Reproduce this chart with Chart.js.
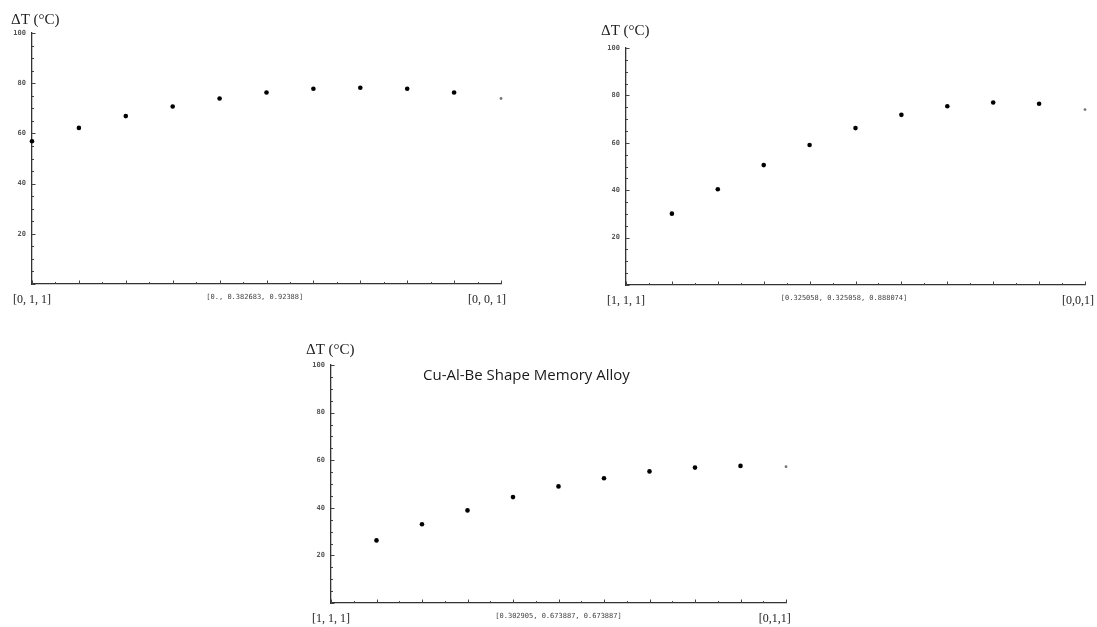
<!DOCTYPE html>
<html>
<head>
<meta charset="utf-8">
<script src="https://cdn.jsdelivr.net/npm/chart.js"></script>
<style>
  body { margin: 0; width: 1097px; height: 627px; background: #fff; overflow: hidden; position: relative; }
  canvas { position: absolute; }
</style>
</head>
<body>
<canvas id="c1"></canvas>
<canvas id="c2"></canvas>
<canvas id="c3"></canvas>
<script>
// data: ΔT (°C) along the orientation path, 10 steps
const steps1 = [0, 1, 2, 3, 4, 5, 6, 7, 8, 9, 10];
const dT1 = [56.9, 62.2, 66.9, 70.7, 73.9, 76.3, 77.8, 78.2, 77.8, 76.3, 73.9];
const steps2 = [1, 2, 3, 4, 5, 6, 7, 8, 9, 10];
const dT2 = [30.1, 40.4, 50.6, 59.1, 66.2, 71.8, 75.4, 77.0, 76.5, 74.0];
const steps3 = [1, 2, 3, 4, 5, 6, 7, 8, 9, 10];
const dT3 = [26.3, 33.1, 38.9, 44.5, 49.0, 52.4, 55.3, 56.9, 57.6, 57.3];

// tick labels (path end points and a midpoint) and where they sit on the path
const xLabels1 = ['[0, 1, 1]', '[0., 0.382683, 0.92388]', '[0, 0, 1]'];
const xLabelAt1 = [0, 4.75, 9.7];
const xLabels2 = ['[1, 1, 1]', '[0.325058, 0.325058, 0.888074]', '[0,0,1]'];
const xLabelAt2 = [0, 4.75, 9.85];
const xLabels3 = ['[1, 1, 1]', '[0.302905, 0.673887, 0.673887]', '[0,1,1]'];
const xLabelAt3 = [0, 5, 9.75];
const yTicks = [20, 40, 60, 80, 100];
const yTitle = 'ΔT (°C)';
const noteText = 'Cu-Al-Be Shape Memory Alloy';

// Mathematica-style inward ticks + the ΔT label and the note
const decor = {
  id: 'decor',
  afterDraw(chart, args, opts) {
    const { ctx, chartArea: a } = chart;
    const xs = chart.scales.x, ys = chart.scales.y;
    ctx.save();
    ctx.strokeStyle = '#444';
    ctx.lineWidth = 1;
    ctx.beginPath();
    for (let v = 0; v <= 10; v += 0.5) {
      const px = Math.round(xs.getPixelForValue(v)) + 0.5;
      const len = Number.isInteger(v) ? 3.5 : 2;
      ctx.moveTo(px, a.bottom);
      ctx.lineTo(px, a.bottom - len);
    }
    for (let v = 0; v <= 100; v += 5) {
      const py = Math.round(ys.getPixelForValue(v)) + 0.5;
      const len = v % 20 === 0 ? 3.5 : 2;
      ctx.moveTo(a.left, py);
      ctx.lineTo(a.left + len, py);
    }
    ctx.stroke();

    ctx.fillStyle = '#222';
    ctx.font = '15px "Liberation Serif", serif';
    ctx.textBaseline = 'middle';
    ctx.textAlign = 'left';
    ctx.fillText(yTitle, a.left + opts.titleDx, a.top + opts.titleDy);
    if (opts.note) {
      ctx.font = '15px "Open Sans", sans-serif';
      ctx.fillStyle = '#1a1a1a';
      ctx.fillText(opts.note, a.left + 92, a.top + 11);
    }
    ctx.restore();
  }
};

function makeChart(id, box, steps, values, labels, labelAt, decorOpts) {
  const cv = document.getElementById(id);
  const padL = 30, padT = 34, padR = 48, padB = 28;
  const w = box.right - box.left + padL + padR;
  const h = box.bottom - box.top + padT + padB;
  cv.width = w; cv.height = h;
  cv.style.left = (box.left - padL) + 'px';
  cv.style.top = (box.top - padT) + 'px';
  cv.style.width = w + 'px';
  cv.style.height = h + 'px';
  const last = values.length - 1;
  return new Chart(cv, {
    type: 'scatter',
    data: {
      datasets: [{
        data: steps.map((s, i) => ({ x: s, y: values[i] })),
        pointRadius: ctx => ctx.dataIndex === last ? 1.4 : 2.3,
        pointBackgroundColor: ctx => ctx.dataIndex === last ? '#777' : '#000',
        pointBorderWidth: 0,
        clip: false
      }]
    },
    options: {
      responsive: false,
      animation: false,
      layout: { padding: { left: 0, top: padT, right: padR, bottom: 0 } },
      plugins: {
        legend: { display: false },
        tooltip: { enabled: false },
        decor: decorOpts
      },
      scales: {
        x: {
          type: 'linear',
          min: 0,
          max: 10,
          afterFit: s => { s.height = padB; },
          afterBuildTicks: s => { s.ticks = labelAt.map(v => ({ value: v })); },
          grid: { display: true, drawOnChartArea: false, drawTicks: false },
          border: { display: true, color: '#333', width: 1.3 },
          ticks: {
            autoSkip: false,
            maxRotation: 0,
            padding: 9,
            color: ctx => ctx.index === 1 ? '#444' : '#222',
            font: ctx => ctx.index === 1
              ? { family: '"DejaVu Sans Mono", monospace', size: 7 }
              : { family: '"Liberation Serif", serif', size: 12 },
            callback: (v, i) => labels[i]
          }
        },
        y: {
          min: 0,
          max: 100,
          afterFit: s => { s.width = padL; },
          afterBuildTicks: s => { s.ticks = yTicks.map(v => ({ value: v })); },
          grid: { display: true, drawOnChartArea: false, drawTicks: false },
          border: { display: true, color: '#333', width: 1.3 },
          ticks: {
            padding: 6,
            color: '#555',
            font: { family: '"DejaVu Sans Mono", monospace', size: 7, weight: 'bold' }
          }
        }
      }
    },
    plugins: [decor]
  });
}

makeChart('c1', { left: 32, top: 33, right: 501, bottom: 284 }, steps1, dT1, xLabels1, xLabelAt1,
  { titleDx: -21, titleDy: -13 });
makeChart('c2', { left: 626, top: 48, right: 1085, bottom: 285 }, steps2, dT2, xLabels2, xLabelAt2,
  { titleDx: -25, titleDy: -17 });
makeChart('c3', { left: 331, top: 365, right: 786, bottom: 603 }, steps3, dT3, xLabels3, xLabelAt3,
  { titleDx: -25, titleDy: -15, note: noteText });
</script>
</body>
</html>
